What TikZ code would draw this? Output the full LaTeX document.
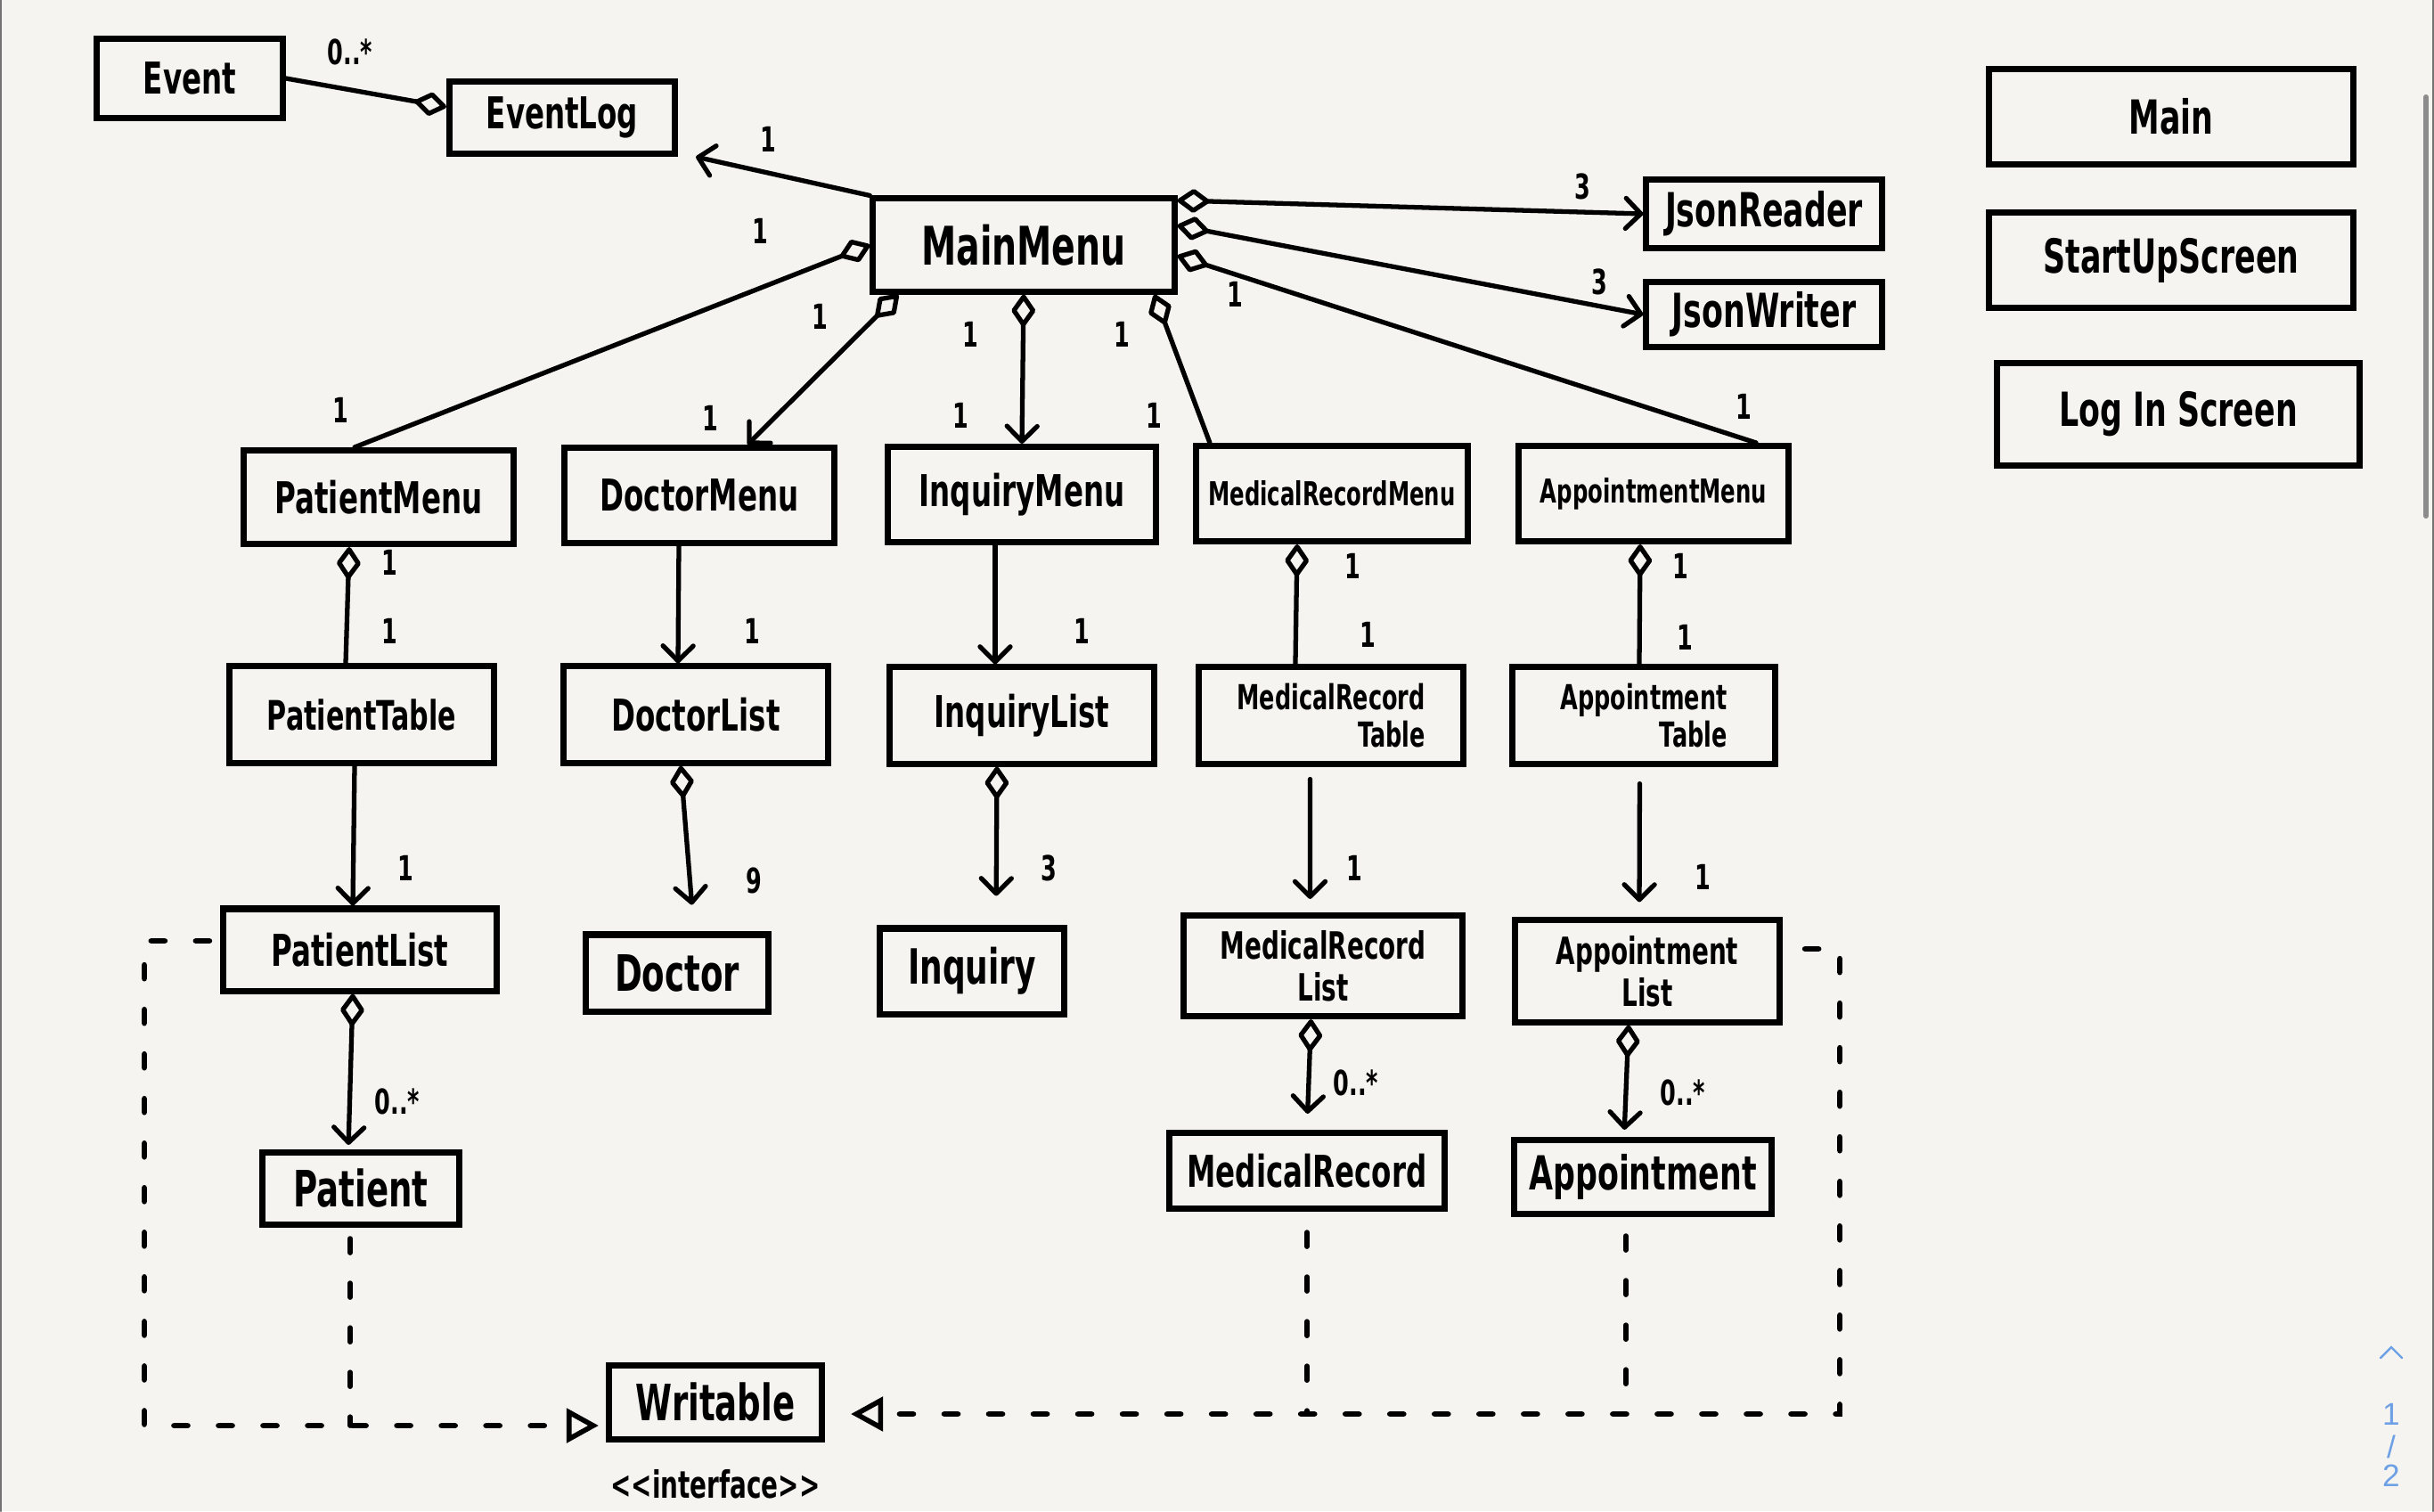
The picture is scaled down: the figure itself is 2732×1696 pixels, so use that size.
\documentclass[tikz,border=0pt]{standalone}
\usepackage{fontspec}
\setmainfont{DejaVu Sans}[FakeStretch=0.66]
\newfontfamily\uifont{Liberation Sans}
\usetikzlibrary{arrows.meta}
\usetikzlibrary{positioning}
\definecolor{paper}{RGB}{245,244,240}
\definecolor{pageblue}{RGB}{110,160,230}
\newcommand{\classfont}[1]{\bfseries\fontsize{#1}{#1}\selectfont}

\begin{document}
\begin{tikzpicture}[x=0.01cm,y=-0.01cm,line cap=round,
    class/.style={rectangle,draw,line width=2pt,inner sep=1pt,align=center},
    box/.style 2 args={class,minimum width=#1cm,minimum height=#2cm},
    mult/.style={font=\classfont{11},inner sep=0pt},
    link/.style={line width=1.5pt},
    nav/.style={link,-{Straight Barb[round,length=0.17cm,width=0.34cm]}},
    agg/.style={link,{Diamond[open,round,length=0.4cm,width=0.28cm]}-},
    aggnav/.style={link,{Diamond[open,round,length=0.4cm,width=0.28cm]}-{Straight Barb[round,length=0.17cm,width=0.34cm]}},
    realize/.style={line width=1.6pt,dash pattern=on 0.16cm off 0.34cm},
    realizeto/.style={realize,-{Triangle[open,length=0.36cm,width=0.38cm]}}]

  % paper
  \fill[paper] (0,0) rectangle (2732,1696);
  \useasboundingbox (0,0) rectangle (2732,1696);

  % classes
  \node[box={2.09}{0.88},font=\classfont{14}] (event) at (213,88) {Event};
  \node[box={2.53}{0.81},font=\classfont{14}] (eventlog) at (631,132) {EventLog};
  \node[box={3.38}{1.04},font=\classfont{17}] (mainmenu) at (1149,275) {MainMenu};
  \node[box={2.64}{0.77},font=\classfont{15}] (jsonreader) at (1980,240) {JsonReader};
  \node[box={2.64}{0.73},font=\classfont{15}] (jsonwriter) at (1980,353) {JsonWriter};
  \node[box={4.08}{1.07},font=\classfont{15}] (main) at (2437,131) {Main};
  \node[box={4.08}{1.07},font=\classfont{15}] (startup) at (2437,292) {StartUpScreen};
  \node[box={4.06}{1.14},font=\classfont{15}] (login) at (2445,465) {Log In Screen};

  \node[box={3.03}{1.05},font=\classfont{14}] (patientmenu) at (425,558) {PatientMenu};
  \node[box={3.02}{1.07},font=\classfont{14}] (doctormenu) at (785,556) {DoctorMenu};
  \node[box={3.01}{1.07},font=\classfont{14}] (inquirymenu) at (1147,555) {InquiryMenu};
  \node[box={3.05}{1.07},font=\classfont{10.5}] (mrmenu) at (1495,554) {MedicalRecordMenu};
  \node[box={3.03}{1.07},font=\classfont{10.5}] (apptmenu) at (1856,554) {AppointmentMenu};

  \node[box={2.96}{1.08},font=\classfont{13}] (patienttable) at (406,802) {PatientTable};
  \node[box={2.97}{1.08},font=\classfont{14}] (doctorlist) at (781,802) {DoctorList};
  \node[box={2.97}{1.08},font=\classfont{14}] (inquirylist) at (1147,803) {InquiryList};
  \node[box={2.97}{1.08},font=\bfseries\fontsize{11}{12}\selectfont,align=right] (mrtable) at (1494,803) {MedicalRecord\\Table};
  \node[box={2.95}{1.08},font=\bfseries\fontsize{11}{12}\selectfont,align=right] (appttable) at (1845,803) {Appointment\\Table};

  \node[box={3.06}{0.92},font=\classfont{14}] (patientlist) at (404,1066) {PatientList};
  \node[box={2.04}{0.86},font=\classfont{16}] (doctor) at (760,1092) {Doctor};
  \node[box={2.06}{0.96},font=\classfont{15.5}] (inquiry) at (1091,1090) {Inquiry};
  \node[box={3.13}{1.13},font=\bfseries\fontsize{12}{13.5}\selectfont] (mrlist) at (1485,1084) {MedicalRecord\\List};
  \node[box={2.96}{1.14},font=\bfseries\fontsize{12}{13.5}\selectfont] (apptlist) at (1849,1090) {Appointment\\List};

  \node[box={2.21}{0.81},font=\classfont{16}] (patient) at (405,1334) {Patient};
  \node[box={3.09}{0.85},font=\classfont{14}] (medicalrecord) at (1467,1314) {MedicalRecord};
  \node[box={2.88}{0.83},font=\classfont{15}] (appointment) at (1844,1321) {Appointment};

  \node[box={2.39}{0.83},font=\classfont{16}] (writable) at (803,1574) {Writable};
  \node[font=\classfont{12},inner sep=0pt,below=0.3cm of writable] (interface) {<{}<interface>{}>};

  % associations
  \draw[agg] ([yshift=0.12cm]eventlog.west) -- (event.east);
  \draw[nav] (mainmenu.north west) -- ([xshift=0.2cm]eventlog.south east);
  \draw[agg] (mainmenu.west) -- ([xshift=-0.27cm]patientmenu.north);
  \draw[aggnav] ([xshift=0.32cm]mainmenu.south west) -- ([xshift=0.54cm]doctormenu.north);
  \draw[aggnav] (mainmenu.south) -- (inquirymenu.north);
  \draw[agg] ([xshift=-0.26cm]mainmenu.south east) -- ([xshift=0.19cm]mrmenu.north west);
  \draw[aggnav] ([yshift=0.5cm]mainmenu.east) -- (jsonreader.west);
  \draw[aggnav] ([yshift=0.22cm]mainmenu.east) -- (jsonwriter.west);
  \draw[agg] ([yshift=-0.12cm]mainmenu.east) -- ([xshift=-0.4cm]apptmenu.north east);

  \draw[agg] ([xshift=-0.33cm]patientmenu.south) -- ([xshift=-0.18cm]patienttable.north);
  \draw[nav] ([xshift=-0.23cm]doctormenu.south) -- ([xshift=-0.2cm]doctorlist.north);
  \draw[nav] ([xshift=-0.3cm]inquirymenu.south) -- ([xshift=-0.3cm]inquirylist.north);
  \draw[agg] ([xshift=-0.39cm]mrmenu.south) -- ([xshift=-0.4cm]mrtable.north);
  \draw[agg] ([xshift=-0.15cm]apptmenu.south) -- ([xshift=-0.05cm]appttable.north);

  \draw[nav] ([xshift=-0.08cm]patienttable.south) -- ([xshift=-0.08cm]patientlist.north);
  \draw[aggnav,shorten >=0.3cm] ([xshift=-0.17cm]doctorlist.south) -- ([xshift=0.19cm]doctor.north);
  \draw[aggnav,shorten >=0.33cm] ([xshift=-0.28cm]inquirylist.south) -- ([xshift=0.27cm]inquiry.north);
  \draw[nav,shorten <=0.14cm,shorten >=0.15cm] ([xshift=-0.235cm]mrtable.south) -- ([xshift=-0.145cm]mrlist.north);
  \draw[nav,shorten <=0.19cm,shorten >=0.17cm] ([xshift=-0.045cm]appttable.south) -- ([xshift=-0.09cm]apptlist.north);

  \draw[aggnav,shorten >=0.05cm] ([xshift=-0.08cm]patientlist.south) -- ([xshift=-0.14cm]patient.north);
  \draw[aggnav,shorten >=0.18cm] ([xshift=-0.135cm]mrlist.south) -- (medicalrecord.north);
  \draw[aggnav,shorten >=0.08cm] ([xshift=-0.21cm]apptlist.south) -- ([xshift=-0.21cm]appointment.north);

  % multiplicities
  \node[mult] (m1) at (393,58) {0..*};
  \node[mult] (m2) at (862,156) {1};
  \node[mult] (m3) at (853,259) {1};
  \node[mult] (m4) at (382,460) {1};
  \node[mult] (m5) at (920,355) {1};
  \node[mult] (m6) at (797,469) {1};
  \node[mult] (m7) at (1089,375) {1};
  \node[mult] (m8) at (1078,466) {1};
  \node[mult] (m9) at (1259,375) {1};
  \node[mult] (m10) at (1295,466) {1};
  \node[mult] (m11) at (1776,209) {3};
  \node[mult] (m12) at (1795,316) {3};
  \node[mult] (m13) at (1386,330) {1};
  \node[mult] (m14) at (1957,456) {1};
  \node[mult] (m15) at (437,631) {1};
  \node[mult] (m16) at (437,708) {1};
  \node[mult] (m17) at (844,708) {1};
  \node[mult] (m18) at (1214,708) {1};
  \node[mult] (m19) at (1518,635) {1};
  \node[mult] (m20) at (1535,712) {1};
  \node[mult] (m21) at (1886,635) {1};
  \node[mult] (m22) at (1891,715) {1};
  \node[mult] (m23) at (455,974) {1};
  \node[mult] (m24) at (846,988) {9};
  \node[mult] (m25) at (1177,974) {3};
  \node[mult] (m26) at (1520,974) {1};
  \node[mult] (m27) at (1911,984) {1};
  \node[mult] (m28) at (446,1236) {0..*};
  \node[mult] (m29) at (1522,1215) {0..*};
  \node[mult] (m30) at (1889,1226) {0..*};

  % realizations of Writable
  \coordinate (wl) at ([yshift=-0.26cm]writable.west);
  \coordinate (wr) at ([yshift=-0.13cm]writable.east);
  \coordinate (lbend) at (162,1600);
  \coordinate (rbend) at (2065,1587);
  \coordinate (pdrop) at ([xshift=-0.12cm]patient.south);
  \coordinate (adrop) at ([xshift=-0.19cm]appointment.south);
  \draw[realizeto,shorten <=0.12cm,shorten >=0.08cm] ([yshift=0.1cm]patientlist.west) -| (lbend) -- (wl);
  \draw[realize,shorten <=0.12cm] (pdrop) -- (pdrop |- wl);
  \draw[realizeto,shorten <=0.25cm,shorten >=0.29cm] ([yshift=0.25cm]apptlist.east) -| (rbend) -- (wr);
  \draw[realize,shorten <=0.23cm] (medicalrecord.south) -- (medicalrecord.south |- wr);
  \draw[realize,shorten <=0.21cm] (adrop) -- (adrop |- wr);

  % viewer scroll bar and page counter
  \draw[black!55,line width=0.6pt] (1,0) -- (1,1696);
  \draw[black!55,line width=0.6pt] (2731,0) -- (2731,1696);
  \draw[black!45,line width=1.7pt] (2723,109) -- (2723,579);
  \draw[pageblue,line width=0.7pt] (2672,1524) -- (2684,1512) -- (2696,1524);
  \node[pageblue,font=\uifont\fontsize{10}{10}\selectfont] (page1) at (2684,1587) {1};
  \node[pageblue,font=\uifont\fontsize{10}{10}\selectfont] (pagesep) at (2684,1624) {/};
  \node[pageblue,font=\uifont\fontsize{10}{10}\selectfont] (page2) at (2684,1656) {2};
\end{tikzpicture}
\end{document}
